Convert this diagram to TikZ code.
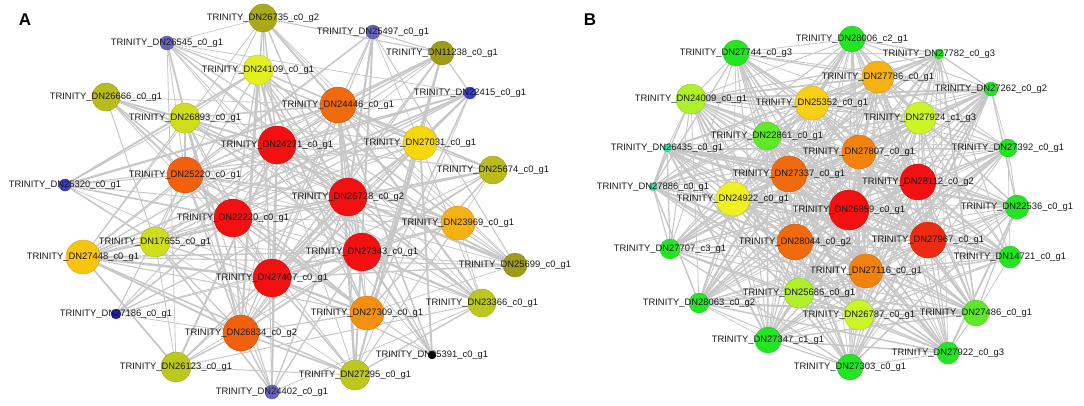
\documentclass[tikz,border=0pt]{standalone}
\usepackage{fontspec}
\setmainfont{Liberation Sans}
\usepackage{tikz,ifthen}

\definecolor{hubred}{HTML}{F21010}
\definecolor{redB}{HTML}{EE2A10}
\definecolor{redorg}{HTML}{F2600E}
\definecolor{orgA}{HTML}{EE6A0C}
\definecolor{orgB}{HTML}{F5900F}
\definecolor{orgC}{HTML}{F5B212}
\definecolor{orgD}{HTML}{F8C40E}
\definecolor{orgE}{HTML}{F06A10}
\definecolor{orgF}{HTML}{F2820E}
\definecolor{yelA}{HTML}{F5D80A}
\definecolor{yelB}{HTML}{E4F01E}
\definecolor{yelC}{HTML}{F8D018}
\definecolor{yelD}{HTML}{F0F020}
\definecolor{ygrA}{HTML}{CFDD1C}
\definecolor{ygrB}{HTML}{CCF528}
\definecolor{ygrC}{HTML}{AEF02A}
\definecolor{oliA}{HTML}{BCC81E}
\definecolor{oliB}{HTML}{B8BC1C}
\definecolor{oliC}{HTML}{A8AA18}
\definecolor{oliD}{HTML}{9E9C14}
\definecolor{bluA}{HTML}{6464BE}
\definecolor{bluB}{HTML}{3A3AD0}
\definecolor{bluC}{HTML}{1E1EB4}
\definecolor{grnA}{HTML}{22E622}
\definecolor{grnB}{HTML}{5EE82A}
\definecolor{teal}{HTML}{2EE6A8}

\begin{document}
\begin{tikzpicture}
      [x=1pt,y=-1pt
      ,ver/.style={circle,draw=#1!80!black,fill=#1,line width=.3pt,inner sep=0}
      ,lin/.style={color=black!22}
      ,lab/.style={inner sep=0,text=black!90,font=\fontsize{9.4}{10}\selectfont}
      ,pan/.style={inner sep=0,font=\bfseries\fontsize{17}{17}\selectfont}]
        \useasboundingbox (0,0) rectangle (1084,405);
        \pgfmathsetseed{4}
        \node[pan] (pA) at (25,20) {A};
        \node[pan] (pB) at (590,20) {B};
        \def\vertsA{24271/277/145/19/hubred/0/1, 22220/233/218/19/hubred/0/1,
          27407/272/278/19/hubred/0/1, 27343/362/252/19/hubred/0/1,
          26728/348/197/19/hubred/0/2, 25220/185/175/18/redorg/0/1,
          26834/241/333/18/redorg/0/2, 24446/338/105/18/orgA/0/1,
          27309/367/313/17/orgB/0/1, 23969/458/223/17/orgC/0/1,
          27448/83/257/17/orgD/0/1, 27031/420/143/17/yelA/0/1,
          24109/258/70/15/yelB/0/1, 26893/185/118/15/ygrA/0/1,
          17655/155/242/15/ygrA/0/1, 26123/176/367/15/oliA/0/1,
          27295/355/375/15/oliA/0/1, 23366/482/303/14/oliA/0/1,
          26666/106/97/14/oliB/0/1, 25674/493/170/14/oliB/0/1,
          26735/263/18/14/oliC/0/2, 11238/442/53/12/oliD/0/1,
          25699/515/265/12/oliD/0/1, 26545/167/43/7/bluA/0/1,
          25497/373/32/7/bluA/0/1, 24402/272/392/7/bluA/0/1,
          22415/470/93/6/bluB/0/1, 25320/65/185/6/bluB/0/1,
          27186/116/314/5/bluC/0/1, 25391/432/355/4/black/0/1}
        \def\vertsB{26859/849/210/20/hubred/0/1, 28112/918/182/18/hubred/0/2,
          27967/928/240/18/redB/0/1, 27337/789/174/18/orgE/0/1,
          28044/795/242/18/orgE/0/2, 27807/859/152/17/orgF/0/1,
          27116/866/271/17/orgF/0/1, 27786/878/77/16/orgC/0/1,
          25352/812/103/17/yelC/0/1, 24922/733/199/17/yelD/0/1,
          27924/920/118/16/ygrB/1/3, 24009/691/99/15/ygrC/0/1,
          26787/859/315/15/ygrB/0/1, 25686/799/293/15/ygrC/0/1,
          22861/767/136/14/grnB/0/1, 27486/976/313/13/grnB/0/1,
          28006/852/39/13/grnA/2/1, 27744/736/53/13/grnA/0/3,
          27347/768/340/13/grnA/1/1, 27303/850/367/13/grnA/0/1,
          22536/1017/207/12/grnA/0/1, 14721/1010/257/11/grnA/0/1,
          27922/948/353/11/grnA/0/3, 27707/670/249/10/grnA/3/1,
          28063/699/303/10/grnA/0/2, 27392/1008/148/9/grnA/0/1,
          27262/991/89/7/grnA/0/2, 27782/939/54/5/grnA/0/3,
          26435/667/148/4/teal/0/1, 27886/653/187/4/teal/0/1}
        \foreach \num/\x/\y/\rad/\col/\cid/\gid [count=\i] in \vertsA{
          \coordinate (a\i) at (\x,\y);
        }
        \foreach \num/\x/\y/\rad/\col/\cid/\gid [count=\i] in \vertsB{
          \coordinate (b\i) at (\x,\y);
        }
        \foreach \i in {1,...,29}{
          \pgfmathtruncatemacro\k{\i+1}
          \foreach \j in {\k,...,30}{
            \pgfmathsetmacro\p{.6*(2-(\i+\j-2)/29)-.05}
            \pgfmathtruncatemacro\keep{rnd<\p}
            \pgfmathsetmacro\lw{.7+2*rnd*rnd}
            \ifthenelse{\keep=1}{\draw[lin,line width=\lw pt] (a\i) -- (a\j);}{}
            \pgfmathsetmacro\p{.42+.55*(2-(\i+\j-2)/29)}
            \pgfmathtruncatemacro\keep{rnd<\p}
            \pgfmathsetmacro\lw{.7+1.6*rnd*rnd}
            \ifthenelse{\keep=1}{\draw[lin,line width=\lw pt] (b\i) -- (b\j);}{}
          }
        }
        \foreach \num/\x/\y/\rad/\col/\cid/\gid [count=\i] in \vertsA{
          \node[ver=\col,minimum size=2*\rad pt] (na\i) at (a\i) {};
        }
        \foreach \num/\x/\y/\rad/\col/\cid/\gid [count=\i] in \vertsB{
          \node[ver=\col,minimum size=2*\rad pt] (nb\i) at (b\i) {};
        }
        \foreach \num/\x/\y/\rad/\col/\cid/\gid [count=\i] in \vertsA{
          \node[lab] (ta\i) at (a\i) {TRINITY\_DN\num\_c\cid\_g\gid};
        }
        \foreach \num/\x/\y/\rad/\col/\cid/\gid [count=\i] in \vertsB{
          \node[lab] (tb\i) at (b\i) {TRINITY\_DN\num\_c\cid\_g\gid};
        }
      \end{tikzpicture}
\end{document}
